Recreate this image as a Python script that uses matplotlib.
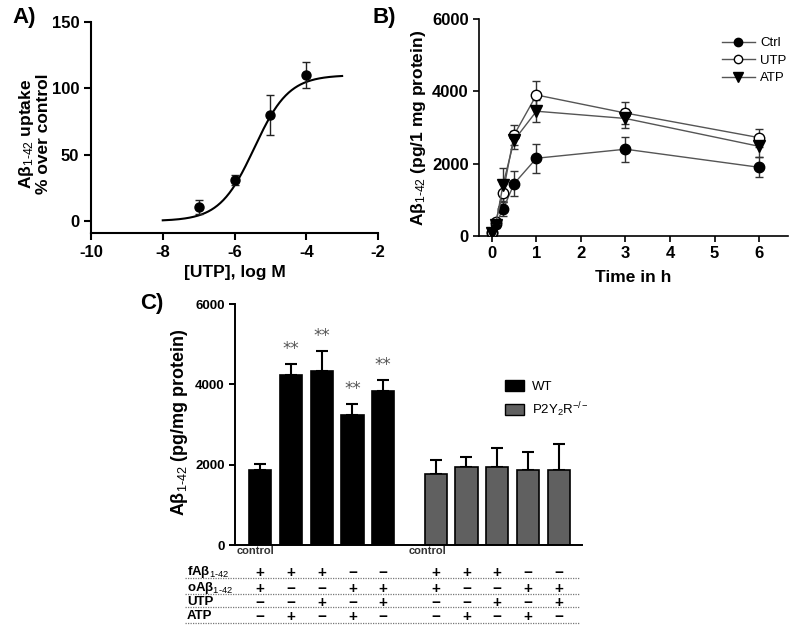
import numpy as np
import matplotlib
matplotlib.use('Agg')
import matplotlib.pyplot as plt
from matplotlib.transforms import blended_transform_factory
from matplotlib.patches import Patch
from matplotlib.lines import Line2D

plt.rcParams['font.family'] = ['Liberation Sans', 'DejaVu Sans']
plt.rcParams['mathtext.fontset'] = 'custom'
plt.rcParams['mathtext.rm'] = 'Liberation Sans'
plt.rcParams['mathtext.it'] = 'Liberation Sans:italic'
plt.rcParams['mathtext.bf'] = 'Liberation Sans:bold'
plt.rcParams['axes.unicode_minus'] = False

# ---------------- Panel A data ----------------
a_logconc = [-7, -6, -5, -4]
a_uptake = [10.5, 31, 80, 110]
a_err = [5, 4, 15, 10]
# fitted sigmoidal dose-response parameters
a_fit_bottom = 0.0
a_fit_top = 110.0
a_fit_logec50 = -5.45
a_fit_hill = 0.9
a_fit_from, a_fit_to = -8, -3

# ---------------- Panel B data ----------------
b_time = [0, 0.083, 0.25, 0.5, 1, 3, 6]
b_ctrl = [80, 330, 740, 1450, 2150, 2400, 1900]
b_ctrl_err = [40, 80, 200, 350, 400, 350, 280]
b_utp = [100, 380, 1200, 2800, 3900, 3400, 2720]
b_utp_err = [50, 100, 250, 280, 380, 300, 250]
b_atp = [80, 300, 1420, 2650, 3450, 3250, 2480]
b_atp_err = [40, 80, 450, 250, 300, 250, 300]

# ---------------- Panel C data ----------------
c_wt = [1867, 4224, 4340, 3237, 3826]
c_wt_err = [140, 280, 480, 265, 280]
c_ko = [1759, 1950, 1950, 1867, 1867]
c_ko_err = [350, 250, 457, 448, 648]
c_sig_wt = ['', '**', '**', '**', '**']
row_labels = [r'fA$\mathbf{\beta}_{1\text{-}42}$', r'oA$\mathbf{\beta}_{1\text{-}42}$', 'UTP', 'ATP']
row_fab = ['+', '+', '+', '-', '-', '+', '+', '+', '-', '-']
row_oab = ['+', '-', '-', '+', '+', '+', '-', '-', '+', '+']
row_utp = ['-', '-', '+', '-', '+', '-', '-', '+', '-', '+']
row_atp = ['-', '+', '-', '+', '-', '-', '+', '-', '+', '-']

fig = plt.figure(figsize=(8, 6.3), dpi=100)

# ================= Panel A =================
axA = fig.add_axes([91/800, 1-233/630, 287/800, 211/630])
xf = np.linspace(a_fit_from, a_fit_to, 300)
yf = a_fit_bottom + (a_fit_top - a_fit_bottom) / (1 + 10 ** ((a_fit_logec50 - xf) * a_fit_hill))
axA.plot(xf, yf, color='black', lw=1.5)
axA.errorbar(a_logconc, a_uptake, yerr=a_err, fmt='o', color='black', ms=6.5,
             ecolor='#222222', elinewidth=1, capsize=3, capthick=1)
axA.set_xlim(-10, -2)
axA.set_ylim(-9, 150)
axA.set_xticks([-10, -8, -6, -4, -2])
axA.set_yticks([0, 50, 100, 150])
axA.spines['top'].set_visible(False)
axA.spines['right'].set_visible(False)
for s in ('left', 'bottom'):
    axA.spines[s].set_linewidth(1.5)
axA.tick_params(width=1.5, length=5, labelsize=12)
for t in axA.get_xticklabels() + axA.get_yticklabels():
    t.set_fontweight('bold')
axA.set_xlabel('[UTP], log M', fontsize=12.5, fontweight='bold', labelpad=4)
axA.set_ylabel('A$\\mathregular{\\beta}_{1\\text{-}42}$ uptake\n% over control',
               fontsize=12.5, fontweight='bold', linespacing=1.0)
axA.yaxis.set_label_coords(-0.14, 0.47)

# ================= Panel B =================
axB = fig.add_axes([479/800, 1-236/630, 309/800, 217/630])
lc = '#555555'
axB.errorbar(b_time, b_ctrl, yerr=b_ctrl_err, fmt='-o', color=lc, mfc='black', mec='black',
             ms=7.5, lw=1, ecolor='#333333', elinewidth=1, capsize=3, label='Ctrl', zorder=3)
axB.errorbar(b_time, b_utp, yerr=b_utp_err, fmt='-o', color=lc, mfc='white', mec='black',
             ms=7.5, lw=1, ecolor='#333333', elinewidth=1, capsize=3, label='UTP', zorder=3)
axB.errorbar(b_time, b_atp, yerr=b_atp_err, fmt='-v', color=lc, mfc='black', mec='black',
             ms=8, lw=1, ecolor='#333333', elinewidth=1, capsize=3, label='ATP', zorder=3)
axB.set_xlim(-0.29, 6.65)
axB.set_ylim(0, 6000)
axB.set_xticks([0, 1, 2, 3, 4, 5, 6])
axB.set_yticks([0, 2000, 4000, 6000])
axB.spines['top'].set_visible(False)
axB.spines['right'].set_visible(False)
for s in ('left', 'bottom'):
    axB.spines[s].set_linewidth(1.2)
axB.tick_params(width=1.2, length=4, labelsize=12)
for t in axB.get_xticklabels() + axB.get_yticklabels():
    t.set_fontweight('bold')
axB.set_xlabel('Time in h', fontsize=12.5, fontweight='bold', labelpad=6)
axB.set_ylabel('A$\\mathregular{\\beta}_{1\\text{-}42}$ (pg/1 mg protein)', fontsize=12.5,
               fontweight='bold')
axB.yaxis.set_label_coords(-0.165, 0.5)
hB = [Line2D([], [], color=lc, lw=1, marker='o', mfc='black', mec='black', ms=6),
      Line2D([], [], color=lc, lw=1, marker='o', mfc='white', mec='black', ms=6),
      Line2D([], [], color=lc, lw=1, marker='v', mfc='black', mec='black', ms=6.5)]
fig.legend(hB, ['Ctrl', 'UTP', 'ATP'], loc='upper left', bbox_to_anchor=(722/800, 1-37/630),
           frameon=False, fontsize=9.5, handlelength=2.5, handletextpad=0.4,
           labelspacing=0.4, borderpad=0, borderaxespad=0)

# ================= Panel C =================
axC = fig.add_axes([235/800, 1-545/630, 347/800, 241/630])
pos_wt = np.arange(5)
pos_ko = np.arange(5) + 5.7
bw = 0.72
axC.bar(pos_wt, c_wt, width=bw, color='black', edgecolor='black', lw=1.2, zorder=2)
axC.errorbar(pos_wt, c_wt, yerr=[[0]*5, c_wt_err], fmt='none', ecolor='black',
             elinewidth=1.5, capsize=4.3, capthick=1.5, zorder=1)
axC.bar(pos_ko, c_ko, width=bw, color='#606060', edgecolor='black', lw=1.2, zorder=2)
axC.errorbar(pos_ko, c_ko, yerr=[[0]*5, c_ko_err], fmt='none', ecolor='black',
             elinewidth=1.5, capsize=4.3, capthick=1.5, zorder=1)
for x, v, e, s in zip(pos_wt, c_wt, c_wt_err, c_sig_wt):
    if s:
        axC.text(x, v + e + 380, s, ha='center', va='center', fontsize=12,
                 color='#555555', family='DejaVu Sans')
axC.set_xlim(-0.81, 10.45)
axC.set_ylim(0, 6000)
axC.set_yticks([0, 2000, 4000, 6000])
axC.set_xticks([])
axC.spines['top'].set_visible(False)
axC.spines['right'].set_visible(False)
for s in ('left', 'bottom'):
    axC.spines[s].set_linewidth(1.4)
axC.tick_params(width=1.4, length=4, labelsize=9.5)
for t in axC.get_yticklabels():
    t.set_fontweight('bold')
axC.set_ylabel('A$\\mathregular{\\beta}_{1\\text{-}\\mathit{42}}$ (pg/mg protein)', fontsize=13,
               fontweight='bold')
axC.yaxis.set_label_coords(-0.13, 0.51)
hC = [Patch(facecolor='black', edgecolor='black', lw=1),
      Patch(facecolor='#606060', edgecolor='black', lw=1)]
fig.legend(hC, ['WT', 'P2Y$_2$R$^{-/-}$'], loc='upper left', bbox_to_anchor=(505/800, 1-380/630),
           frameon=False, fontsize=9.5, handlelength=1.45, handleheight=0.85,
           handletextpad=0.6, labelspacing=0.55, borderpad=0, borderaxespad=0)

# ---- table below panel C ----
tr = blended_transform_factory(axC.transData, fig.transFigure)
all_pos = list(pos_wt) + list(pos_ko)
fig.text(237/800, 1-551/630, 'control', fontsize=8, fontweight='bold', color='#333333',
         ha='left', va='center')
fig.text(409/800, 1-551/630, 'control', fontsize=8, fontweight='bold', color='#333333',
         ha='left', va='center')
rows = [row_fab, row_oab, row_utp, row_atp]
row_y = [572, 588, 602, 616]
line_y = [578, 594, 607, 623]
for lab, signs, yy, ly in zip(row_labels, rows, row_y, line_y):
    fig.text(187/800, 1-yy/630, lab, fontsize=9.5, fontweight='bold', ha='left', va='center')
    for x, s in zip(all_pos, signs):
        ch = '+' if s == '+' else '\u2212'
        axC.text(x, 1-(yy+1)/630, ch, transform=tr, fontsize=11, fontweight='bold',
                 ha='center', va='center', clip_on=False)
    fig.add_artist(Line2D([185/800, 580/800], [1-ly/630, 1-ly/630], color='#777777',
                          lw=0.9, linestyle=(0, (1, 1))))

# ---- panel labels ----
fig.text(12/800, 1-17/630, 'A)', fontsize=16, fontweight='bold', ha='left', va='center')
fig.text(372/800, 1-17/630, 'B)', fontsize=16, fontweight='bold', ha='left', va='center')
fig.text(140/800, 1-303/630, 'C)', fontsize=16, fontweight='bold', ha='left', va='center')

fig.savefig('out.png', dpi=100)
